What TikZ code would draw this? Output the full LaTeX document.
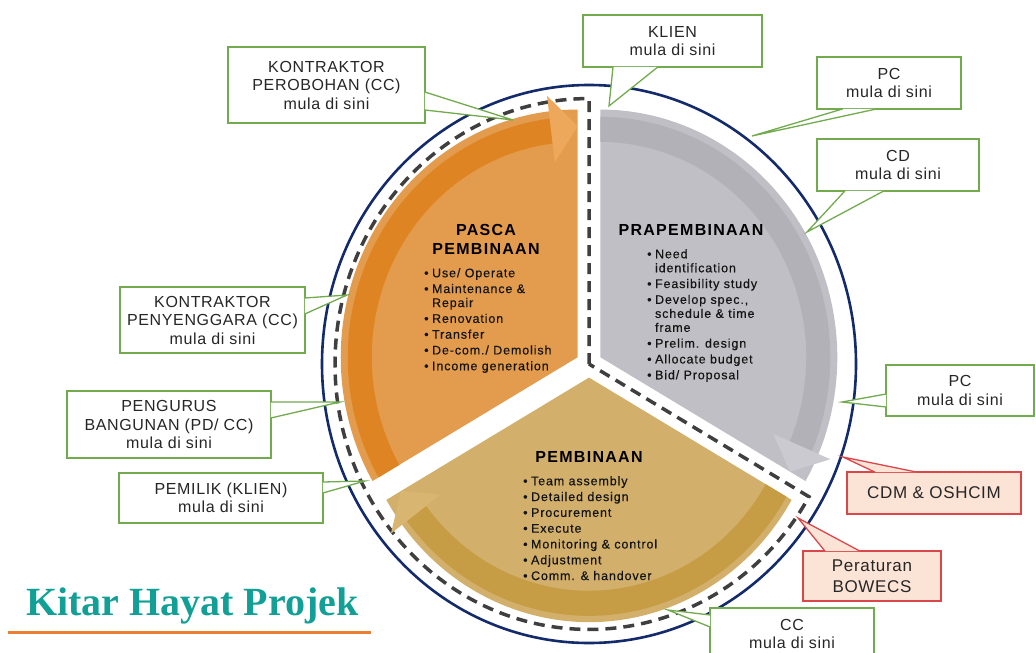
\documentclass[tikz,border=0pt]{standalone}
\usepackage{fontspec}
\setmainfont{Liberation Sans}
\newfontfamily\hdfont[LetterSpace=8]{Liberation Sans}
\newfontfamily\lifont[LetterSpace=7,FakeBold=0.4]{Liberation Sans}
\newfontfamily\cofont[LetterSpace=4]{Liberation Sans}
\newfontfamily\ttlfont{Liberation Serif}
\usetikzlibrary{calc}
\definecolor{navy}{HTML}{132A6B}
\definecolor{dashc}{HTML}{3F3F3F}
\definecolor{orsec}{HTML}{E39C4D}
\definecolor{orband}{HTML}{DF8423}
\definecolor{orhead}{HTML}{EEA85C}
\definecolor{grsec}{HTML}{C0BFC6}
\definecolor{grband}{HTML}{B2B1B8}
\definecolor{grhead}{HTML}{CBCAD0}
\definecolor{tnsec}{HTML}{D2B06C}
\definecolor{tnband}{HTML}{C69D45}
\definecolor{tnhead}{HTML}{D8B672}
\definecolor{cgreen}{HTML}{72AA4E}
\definecolor{cred}{HTML}{D9474B}
\definecolor{cpink}{HTML}{FBE3D6}
\definecolor{ttl}{HTML}{12A096}
\definecolor{uline}{HTML}{ED7D31}
\definecolor{txt}{HTML}{262626}
\newcommand{\ptr}[5]{\fill[#4] (#1) -- (#3) -- (#2) -- cycle; \draw[#5] (#1) -- (#3) -- (#2);}
\newcommand{\bi}{\hphantom{\textbullet\hspace{3.5pt}}}
\newcommand{\bu}{\textbullet\hspace{3.5pt}}
\begin{document}
\begin{tikzpicture}[x=1pt,y=-1pt,
  gbox/.style={draw=cgreen, line width=1.3pt, fill=white, inner sep=0pt, align=center, text=txt,
    font=\cofont\fontsize{16}{18.5}\selectfont},
  rbox/.style={draw=cred, line width=1.3pt, fill=cpink, inner sep=0pt, align=center, text=txt,
    font=\cofont\fontsize{17}{21}\selectfont},
  gline/.style={draw=cgreen, line width=1.3pt},
  rline/.style={draw=cred, line width=1.3pt},
  hd/.style={inner sep=0pt, text=black, align=center, font=\hdfont\bfseries\fontsize{16}{19}\selectfont},
  li/.style={inner sep=0pt, anchor=north west, align=left, text=black!92, font=\lifont\fontsize{12.5}{15.8}\selectfont},
  dashline/.style={draw=dashc, line width=3.5pt, dash pattern=on 11pt off 7pt},
]
\useasboundingbox (0,0) rectangle (1036,653);

% outer navy ring
\draw[navy, line width=2.6pt] (589,364) ellipse [x radius=267, y radius=279];

\begin{scope}[shift={(589,364)}, x=1pt, y=1.045pt]
  % dashed outline
  \draw[dashline] (0,0) -- (90:254) arc[start angle=90, end angle=330, radius=254] -- cycle;
  % gray sector (PRAPEMBINAAN)
  \begin{scope}[shift={(30:13)}]
    \fill[grsec] (0,0) -- (-30:237) arc[start angle=-30, end angle=90, radius=237] -- cycle;
    \fill[grband] (90:206) -- (90:230) arc[start angle=90, end angle=-23, radius=230] -- (-23:206) arc[start angle=-23, end angle=90, radius=206] -- cycle;
    \fill[grhead] (-23:188) -- (-23:250) -- (-30:219) -- cycle;
  \end{scope}
  % orange sector (PASCA PEMBINAAN)
  \begin{scope}[shift={(150:13)}]
    \fill[orsec] (0,0) -- (90:237) arc[start angle=90, end angle=210, radius=237] -- cycle;
    \fill[orband] (210:206) -- (210:230) arc[start angle=210, end angle=97, radius=230] -- (97:206) arc[start angle=97, end angle=210, radius=206] -- cycle;
    \fill[orhead] (97:188) -- (97:252) -- (90:221) -- cycle;
  \end{scope}
  % tan sector (PEMBINAAN)
  \begin{scope}[shift={(270:13)}]
    \fill[tnsec] (0,0) -- (210:234) arc[start angle=210, end angle=330, radius=234] -- cycle;
    \fill[tnband] (330:204) -- (330:228) arc[start angle=330, end angle=217, radius=228] -- (217:204) arc[start angle=217, end angle=330, radius=204] -- cycle;
    \fill[tnhead] (217:186) -- (217:248) -- (210:217) -- cycle;
  \end{scope}
\end{scope}

% sector headings and lists
\node[hd] (prah) at (691,230) {PRAPEMBINAAN};
\node[li] (pral) at (647,249) {\bu Need\\[-1.8pt]\bi identification\\\bu Feasibility study\\\bu Develop spec.,\\[-1.8pt]\bi schedule \& time\\[-1.8pt]\bi frame\\\bu Prelim. design\\\bu Allocate budget\\\bu Bid/ Proposal};

\node[hd] (pash) at (486,239.5) {PASCA\\PEMBINAAN};
\node[li] (pasl) at (424,268) {\bu Use/ Operate\\\bu Maintenance \&\\[-1.8pt]\bi Repair\\\bu Renovation\\\bu Transfer\\\bu De-com./ Demolish\\\bu Income generation};

\node[hd] (pemh) at (589,457) {PEMBINAAN};
\node[li] (peml) at (523,476) {\bu Team assembly\\\bu Detailed design\\\bu Procurement\\\bu Execute\\\bu Monitoring \& control\\\bu Adjustment\\\bu Comm. \& handover};

% callouts
\node[gbox, minimum width=197pt, minimum height=76pt] (per) at (326.5,85) {KONTRAKTOR\\PEROBOHAN (CC)\\mula di sini};
\coordinate (perT) at (513,120);
\ptr{[xshift=-0.8pt,yshift=-7pt]per.east}{[xshift=-0.8pt,yshift=-25pt]per.east}{perT}{white}{gline}

\node[gbox, minimum width=179pt, minimum height=52pt] (kl) at (672.5,41) {KLIEN\\mula di sini};
\coordinate (klT) at (609,106);
\ptr{[xshift=-59.5pt,yshift=0.8pt]kl.south}{[xshift=-14.5pt,yshift=0.8pt]kl.south}{klT}{white}{gline}

\node[gbox, minimum width=144pt, minimum height=52pt] (pca) at (889,83) {PC\\mula di sini};
\coordinate (pcaT) at (752,136);
\ptr{[xshift=-46pt,yshift=0.8pt]pca.south}{[xshift=-12pt,yshift=0.8pt]pca.south}{pcaT}{white}{gline}

\node[gbox, minimum width=162pt, minimum height=52pt] (cd) at (898,165) {CD\\mula di sini};
\coordinate (cdT) at (807,232);
\ptr{[xshift=-53pt,yshift=0.8pt]cd.south}{[xshift=-14pt,yshift=0.8pt]cd.south}{cdT}{white}{gline}

\node[gbox, minimum width=148pt, minimum height=51pt] (pcb) at (960,390.5) {PC\\mula di sini};
\coordinate (pcbT) at (842,402);
\ptr{[xshift=0.8pt,yshift=-3.5pt]pcb.west}{[xshift=0.8pt,yshift=-16.5pt]pcb.west}{pcbT}{white}{gline}

\node[rbox, minimum width=174pt, minimum height=42pt] (cdm) at (934,493) {CDM \& OSHCIM};
\coordinate (cdmT) at (843,457);
\ptr{[xshift=-59pt,yshift=-0.8pt]cdm.north}{[xshift=-17pt,yshift=-0.8pt]cdm.north}{cdmT}{cpink}{rline}

\node[rbox, minimum width=138pt, minimum height=50pt] (bow) at (872,576) {Peraturan\\BOWECS};
\coordinate (bowT) at (798,518);
\ptr{[xshift=-47pt,yshift=-0.8pt]bow.north}{[xshift=-12pt,yshift=-0.8pt]bow.north}{bowT}{cpink}{rline}

\node[gbox, minimum width=164pt, minimum height=52pt] (cc) at (792,634) {CC\\mula di sini};
\coordinate (ccT) at (668,610);
\ptr{[xshift=0.8pt,yshift=19pt]cc.west}{[xshift=0.8pt,yshift=7pt]cc.west}{ccT}{white}{gline}

\node[gbox, minimum width=185pt, minimum height=66pt] (pny) at (212.5,320) {KONTRAKTOR\\PENYENGGARA (CC)\\mula di sini};
\coordinate (pnyT) at (347,295);
\ptr{[xshift=-0.8pt,yshift=22pt]pny.east}{[xshift=-0.8pt,yshift=6pt]pny.east}{pnyT}{white}{gline}

\node[gbox, minimum width=204pt, minimum height=67pt] (png) at (169,424.5) {PENGURUS\\BANGUNAN (PD/ CC)\\mula di sini};
\coordinate (pngT) at (340,402);
\ptr{[xshift=-0.8pt,yshift=22.5pt]png.east}{[xshift=-0.8pt,yshift=6.5pt]png.east}{pngT}{white}{gline}

\node[gbox, minimum width=204pt, minimum height=50pt] (pem) at (221,498) {PEMILIK (KLIEN)\\mula di sini};
\coordinate (pemT) at (365,481);
\ptr{[xshift=-0.8pt,yshift=16pt]pem.east}{[xshift=-0.8pt,yshift=5pt]pem.east}{pemT}{white}{gline}

% title
\node[anchor=base west, inner sep=0pt, text=ttl, font=\ttlfont\bfseries\fontsize{40}{40}\selectfont] (title) at (26,615) {Kitar Hayat Projek};
\coordinate (ulA) at (8,632);
\coordinate (ulB) at (371,632);
\draw[uline, line width=3pt] (ulA) -- (ulB);
\end{tikzpicture}
\end{document}
